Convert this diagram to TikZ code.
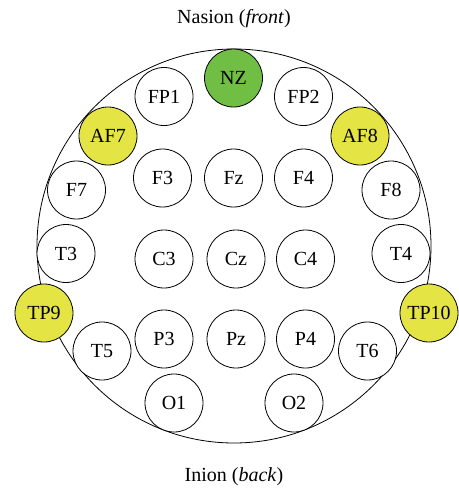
\documentclass[tikz,border=0pt]{standalone}
\usepackage{fontspec}
\setmainfont{Liberation Serif}
\usetikzlibrary{positioning}

\definecolor{nzgreen}{RGB}{112,190,68}
\definecolor{refyellow}{RGB}{228,228,68}

\begin{document}
\begin{tikzpicture}[
    x=1pt, y=-1pt,
    every node/.style={font=\fontsize{20}{24}\selectfont},
    electrode/.style={draw, circle, fill=white, line width=0.8pt, minimum size=58pt, inner sep=0pt},
    reference/.style={electrode, fill=refyellow},
    ground/.style={electrode, fill=nzgreen}
]
\useasboundingbox (0,0) rectangle (458,490);

% Head outline
\node[draw, circle, line width=0.8pt, minimum size=394pt, inner sep=0pt] (head) at (234,246) {};

% Labels
\node (front) at (234,19) {Nasion (\textit{front})};
\node (back) at (234,477) {Inion (\textit{back})};

% Electrodes
\foreach \name/\x/\y in {FP1/164/96.5, FP2/303.5/96.5,
    F7/76.5/190, F3/162.5/178, Fz/233.5/178, F4/303.5/178, F8/391/190,
    T3/66/253.5, C3/164/259, Cz/236/259, C4/305.5/259, T4/401/253.5,
    T5/102/351, P3/164/339, Pz/236/339, P4/305.5/339, T6/367.5/351,
    O1/174/403, O2/294/403}
  \node[electrode] (\name) at (\x,\y) {\name};

\node[ground] (NZ) at (233.5,78) {NZ};
\node[reference] (AF7) at (108,136) {AF7};
\node[reference] (AF8) at (360,136) {AF8};
\node[reference] (TP9) at (44,313) {TP9};
\node[reference] (TP10) at (429,313) {TP10};

\end{tikzpicture}
\end{document}
